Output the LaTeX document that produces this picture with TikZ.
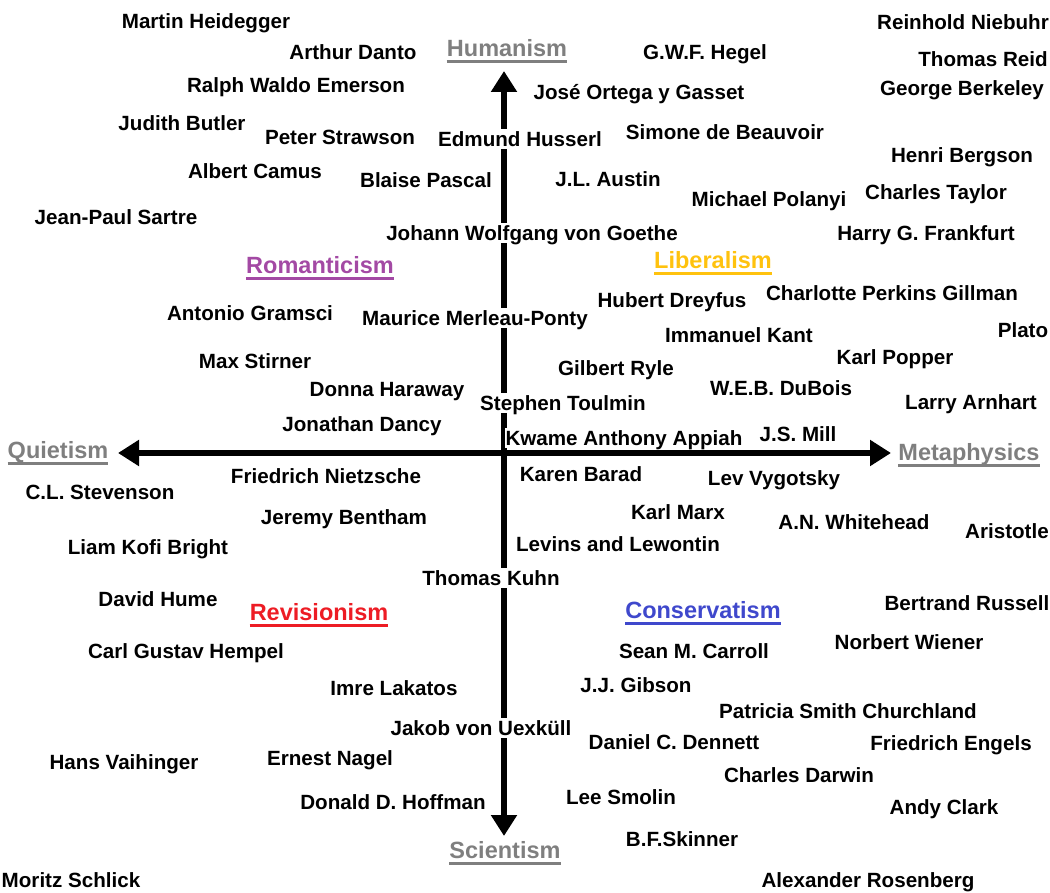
\documentclass[tikz,border=0pt]{standalone}
\usepackage{fontspec}
\setmainfont{Liberation Sans}
\usepackage{tikz}
\usetikzlibrary{arrows.meta}
\definecolor{axisgray}{HTML}{7F7F7F}
\definecolor{romanticpurple}{HTML}{A349A4}
\definecolor{liberalgold}{HTML}{FFC20E}
\definecolor{conservblue}{HTML}{3F48CC}
\definecolor{revisionred}{HTML}{ED1C24}
\newcommand{\thinkerfont}{\fontsize{20.6}{24}\selectfont\bfseries}
\newcommand{\campfont}{\fontsize{23.5}{28}\selectfont\bfseries}

\begin{document}
\begin{tikzpicture}[
    x=1pt, y=-1pt,
    thinker/.style={font=\thinkerfont, text height=14.7pt, text depth=0pt, inner xsep=1pt, inner ysep=2.5pt, fill=white},
    camp/.style={font=\campfont, text=#1, text height=16.8pt, text depth=0pt, inner sep=0pt,
        append after command={([yshift=-4.5pt]\tikzlastnode.south west) edge[draw=#1, line width=3pt] ([yshift=-4.5pt]\tikzlastnode.south east)}},
    axis/.style={line width=6pt, {Triangle[length=21pt,width=25pt]}-{Triangle[length=21pt,width=25pt]}}
]
    \useasboundingbox (0,0) rectangle (1050,893);

    % Axes
    \coordinate (upend) at (504,71);
    \coordinate (downend) at (504,836);
    \coordinate (leftend) at (118,453);
    \coordinate (rightend) at (891,453);
    \draw[axis] (downend) -- (upend);
    \draw[axis] (leftend) -- (rightend);

    % Axis ends
    \node[camp=axisgray] (humanism) at (507,48) {Humanism};
    \node[camp=axisgray] (scientism) at (505,850) {Scientism};
    \node[camp=axisgray] (quietism) at (58,450) {Quietism};
    \node[camp=axisgray] (metaphysics) at (969,452) {Metaphysics};

    % Quadrants
    \node[camp=romanticpurple] (romanticism) at (320,265) {Romanticism};
    \node[camp=liberalgold] (liberalism) at (713,260) {Liberalism};
    \node[camp=revisionred] (revisionism) at (319,612) {Revisionism};
    \node[camp=conservblue] (conservatism) at (703,610) {Conservatism};

    % Upper half
    \node[thinker] (heidegger) at (206,21) {Martin Heidegger};
    \node[thinker] (danto) at (353,52) {Arthur Danto};
    \node[thinker] (hegel) at (705,52) {G.W.F. Hegel};
    \node[thinker] (niebuhr) at (963,22) {Reinhold Niebuhr};
    \node[thinker] (reid) at (983,59) {Thomas Reid};
    \node[thinker] (berkeley) at (962,88) {George Berkeley};
    \node[thinker] (emerson) at (296,85) {Ralph Waldo Emerson};
    \node[thinker] (ortega) at (639,92) {José Ortega y Gasset};
    \node[thinker] (butler) at (182,123) {Judith Butler};
    \node[thinker] (strawson) at (340,137) {Peter Strawson};
    \node[thinker] (husserl) at (520,139) {Edmund Husserl};
    \node[thinker] (beauvoir) at (725,132) {Simone de Beauvoir};
    \node[thinker] (bergson) at (962,155) {Henri Bergson};
    \node[thinker] (camus) at (255,171) {Albert Camus};
    \node[thinker] (pascal) at (426,180) {Blaise Pascal};
    \node[thinker] (austin) at (608,179) {J.L. Austin};
    \node[thinker] (polanyi) at (769,199) {Michael Polanyi};
    \node[thinker] (taylor) at (936,192) {Charles Taylor};
    \node[thinker] (sartre) at (116,217) {Jean-Paul Sartre};
    \node[thinker] (goethe) at (532,233) {Johann Wolfgang von Goethe};
    \node[thinker] (frankfurt) at (926,233) {Harry G. Frankfurt};
    \node[thinker] (dreyfus) at (672,300) {Hubert Dreyfus};
    \node[thinker] (gilman) at (892,293) {Charlotte Perkins Gillman};
    \node[thinker] (gramsci) at (250,313) {Antonio Gramsci};
    \node[thinker] (merleauponty) at (475,318) {Maurice Merleau-Ponty};
    \node[thinker] (plato) at (1023,330) {Plato};
    \node[thinker] (kant) at (739,335) {Immanuel Kant};
    \node[thinker] (stirner) at (255,361) {Max Stirner};
    \node[thinker] (popper) at (895,357) {Karl Popper};
    \node[thinker] (ryle) at (616,368) {Gilbert Ryle};
    \node[thinker] (haraway) at (387,389) {Donna Haraway};
    \node[thinker] (dubois) at (781,388) {W.E.B. DuBois};
    \node[thinker] (toulmin) at (563,403) {Stephen Toulmin};
    \node[thinker] (arnhart) at (971,402) {Larry Arnhart};
    \node[thinker] (dancy) at (362,424) {Jonathan Dancy};
    \node[thinker] (mill) at (798,434) {J.S. Mill};
    \node[thinker] (appiah) at (624,438) {Kwame Anthony Appiah};

    % Lower half
    \node[thinker] (nietzsche) at (326,476) {Friedrich Nietzsche};
    \node[thinker] (barad) at (581,474) {Karen Barad};
    \node[thinker] (vygotsky) at (774,478) {Lev Vygotsky};
    \node[thinker] (stevenson) at (100,492) {C.L. Stevenson};
    \node[thinker] (bentham) at (344,517) {Jeremy Bentham};
    \node[thinker] (marx) at (678,512) {Karl Marx};
    \node[thinker] (whitehead) at (854,522) {A.N. Whitehead};
    \node[thinker] (aristotle) at (1007,531) {Aristotle};
    \node[thinker] (bright) at (148,547) {Liam Kofi Bright};
    \node[thinker] (levins) at (618,544) {Levins and Lewontin};
    \node[thinker] (kuhn) at (491,578) {Thomas Kuhn};
    \node[thinker] (hume) at (158,599) {David Hume};
    \node[thinker] (russell) at (967,603) {Bertrand Russell};
    \node[thinker] (hempel) at (186,651) {Carl Gustav Hempel};
    \node[thinker] (carroll) at (694,651) {Sean M. Carroll};
    \node[thinker] (wiener) at (909,642) {Norbert Wiener};
    \node[thinker] (lakatos) at (394,688) {Imre Lakatos};
    \node[thinker] (gibson) at (636,685) {J.J. Gibson};
    \node[thinker] (churchland) at (848,711) {Patricia Smith Churchland};
    \node[thinker] (uexkull) at (481,728) {Jakob von Uexküll};
    \node[thinker] (dennett) at (674,742) {Daniel C. Dennett};
    \node[thinker] (engels) at (951,743) {Friedrich Engels};
    \node[thinker] (vaihinger) at (124,762) {Hans Vaihinger};
    \node[thinker] (nagel) at (330,758) {Ernest Nagel};
    \node[thinker] (darwin) at (799,775) {Charles Darwin};
    \node[thinker] (hoffman) at (393,802) {Donald D. Hoffman};
    \node[thinker] (smolin) at (621,797) {Lee Smolin};
    \node[thinker] (clark) at (944,807) {Andy Clark};
    \node[thinker] (skinner) at (682,839) {B.F.Skinner};
    \node[thinker] (schlick) at (71,880) {Moritz Schlick};
    \node[thinker] (rosenberg) at (868,880) {Alexander Rosenberg};
\end{tikzpicture}
\end{document}
